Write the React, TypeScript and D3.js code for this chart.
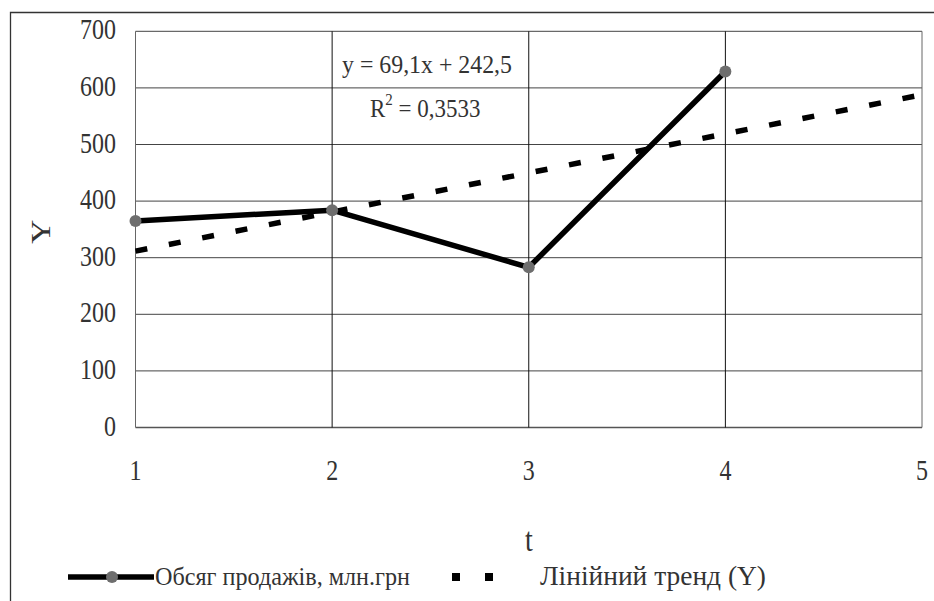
import React from "react";
import * as d3 from "d3";

const periods = [1, 2, 3, 4];
const salesValues = [365, 384, 283, 629];
const xTicks = [1, 2, 3, 4, 5];
const yTicks = [0, 100, 200, 300, 400, 500, 600, 700];
const seriesName = "Обсяг продажів, млн.грн";
const trendName = "Лінійний тренд (Y)";
const equationText = "y = 69,1x + 242,5";
const r2Text = "0,3533";

const W = 934;
const H = 601;
const m = { left: 135.5, right: 922, top: 31.3, bottom: 427.5 };
const FONT = '"Liberation Serif", "DejaVu Serif", "Times New Roman", serif';
const SY = 1.2;

function SText(props: {
  x: number;
  y: number;
  size: number;
  anchor?: "start" | "middle" | "end";
  sy?: number;
  dy?: string;
  len?: number;
  children: React.ReactNode;
}) {
  const { x, y, size, anchor = "start", sy = SY, dy, len, children } = props;
  return (
    <g transform={`translate(${x},${y}) scale(1,${sy})`}>
      <text
        x={0}
        y={0}
        dy={dy}
        textAnchor={anchor}
        fontSize={size}
        fill="#333"
        textLength={len}
        lengthAdjust={len ? "spacingAndGlyphs" : undefined}
      >
        {children}
      </text>
    </g>
  );
}

export default function App() {
  const x = d3.scaleLinear().domain([1, 5]).range([m.left, m.right]);
  const y = d3.scaleLinear().domain([0, 700]).range([m.bottom, m.top]);

  // least-squares trend from data
  const mx = d3.mean(periods) as number;
  const my = d3.mean(salesValues) as number;
  let sxy = 0,
    sxx = 0;
  periods.forEach((p, i) => {
    sxy += (p - mx) * (salesValues[i] - my);
    sxx += (p - mx) * (p - mx);
  });
  const slope = sxy / sxx;
  const intercept = my - slope * mx;
  const trendPts: [number, number][] = [1, 5].map((t) => [t, intercept + slope * t]);

  const line = d3
    .line<[number, number]>()
    .x((d) => x(d[0]))
    .y((d) => y(d[1]));
  const salesPts: [number, number][] = periods.map((p, i) => [p, salesValues[i]]);

  return (
    <svg
      width={W}
      height={H}
      style={{ position: "absolute", left: 0, top: 0, background: "#fff", fontFamily: FONT }}
    >
      <rect x={0} y={0} width={W} height={H} fill="#fff" />
      {/* outer chart border */}
      <path d={`M10.5,${H} V12.5 H${W}`} fill="none" stroke="#333" strokeWidth={1.3} />

      {/* horizontal gridlines */}
      {yTicks.map((t) => (
        <line
          key={"h" + t}
          x1={m.left}
          x2={m.right}
          y1={y(t)}
          y2={y(t)}
          stroke={t === 0 ? "#555" : "#444"}
          strokeWidth={t === 0 ? 1.5 : 1}
        />
      ))}
      {/* vertical gridlines */}
      {xTicks.map((t) => (
        <line
          key={"v" + t}
          x1={x(t)}
          x2={x(t)}
          y1={m.top}
          y2={m.bottom}
          stroke={t === 1 || t === 5 ? "#666" : "#111"}
          strokeWidth={1}
        />
      ))}

      {/* y tick labels */}
      {yTicks.map((t) => (
        <SText key={"yl" + t} x={116} y={y(t) + 8} size={24} anchor="end">
          {t}
        </SText>
      ))}
      {/* x tick labels */}
      {xTicks.map((t) => (
        <SText key={"xl" + t} x={x(t)} y={480} size={24} anchor="middle">
          {t}
        </SText>
      ))}

      {/* axis titles */}
      <SText x={529} y={551} size={28} anchor="middle">
        t
      </SText>
      <g transform="translate(50,232) rotate(-90)">
        <text x={0} y={0} textAnchor="middle" fontSize={28} fill="#333" transform="scale(1.2,1)">
          Y
        </text>
      </g>

      {/* trend line */}
      <path
        d={line(trendPts) || ""}
        fill="none"
        stroke="#000"
        strokeWidth={5.5}
        strokeDasharray="12 22"
      />

      {/* sales line */}
      <path
        d={line(salesPts) || ""}
        fill="none"
        stroke="#000"
        strokeWidth={5.5}
        strokeLinejoin="round"
      />
      {salesPts.map((d, i) => (
        <circle key={"p" + i} cx={x(d[0])} cy={y(d[1])} r={6} fill="#6e6e6e" />
      ))}

      {/* equation */}
      <SText x={427} y={73} size={23} anchor="middle" sy={1.12} len={170}>
        {equationText}
      </SText>
      <g transform="translate(370,117) scale(1,1.12)">
        <text x={0} y={0} fontSize={23} fill="#333">
          R<tspan dy={-11} fontSize={15}>2</tspan>
          <tspan dy={11}>{" = " + r2Text}</tspan>
        </text>
      </g>

      {/* legend */}
      <line x1={68} x2={154} y1={577} y2={577} stroke="#000" strokeWidth={5.5} />
      <circle cx={112} cy={577} r={6} fill="#6e6e6e" />
      <SText x={155} y={585} size={21} len={255}>
        {seriesName}
      </SText>
      <rect x={452} y={573} width={8} height={8} fill="#000" />
      <rect x={485} y={573} width={8} height={8} fill="#000" />
      <SText x={540} y={585} size={22} len={226}>
        {trendName}
      </SText>
    </svg>
  );
}
